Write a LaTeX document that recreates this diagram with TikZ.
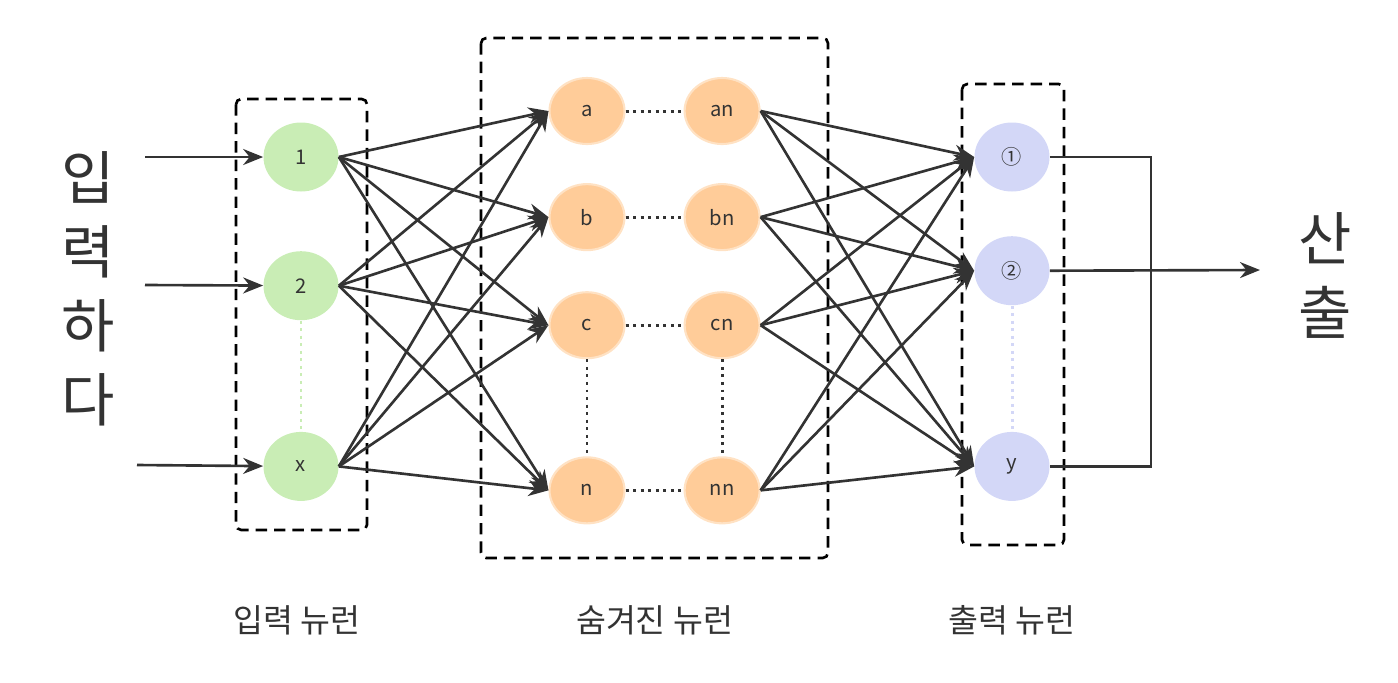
\documentclass[tikz,border=0pt]{standalone}
\usepackage{fontspec}
\setmainfont{Noto Sans CJK KR}
\usepackage{tikz}
\usetikzlibrary{arrows.meta, positioning, shapes.geometric}
\definecolor{LineGray}{RGB}{51,51,51}
\definecolor{NeuGreen}{RGB}{201,237,181}
\definecolor{NeuOrange}{RGB}{255,204,153}
\definecolor{EdgeOrange}{RGB}{255,226,196}
\definecolor{NeuLilac}{RGB}{211,215,247}
\tikzset{
  neuron/.style={ellipse, inner sep=0pt, minimum width=1.5cm,
    minimum height=1.38cm, font=\fontsize{11.5}{13}\selectfont, text=LineGray},
  inneuron/.style={neuron, fill=NeuGreen},
  hidneuron/.style={neuron, fill=NeuOrange, draw=EdgeOrange,
    line width=1.2pt, minimum height=1.32cm},
  outneuron/.style={neuron, fill=NeuLilac},
  groupbox/.style={draw=black, line width=1.5pt,
    dash pattern=on 6.5pt off 4pt, rounded corners=3pt},
  arrow/.style={-{Stealth[length=0.4cm, width=0.32cm]}, line width=1.5pt, color=LineGray},
  link/.style={line width=1.5pt, color=LineGray},
  dotlink/.style={line width=1.7pt, color=LineGray, dash pattern=on 1.7pt off 2.6pt},
  bigtext/.style={font=\fontsize{33}{42}\selectfont, text=LineGray, align=center},
  captext/.style={font=\fontsize{18.5}{22}\selectfont, text=LineGray}
}

\begin{document}
\begin{tikzpicture}
  \useasboundingbox (0,0) rectangle (27.96,-13.64);

  % Group frames
  \draw[groupbox] (4.72,-1.98) rectangle (7.34,-10.6);
  \draw[groupbox] (9.62,-0.76) rectangle (16.56,-11.16);
  \draw[groupbox] (19.24,-1.68) rectangle (21.28,-10.9);

  % Input neurons
  \node[inneuron] (i1) at (6.02,-3.14) {1};
  \node[inneuron, below=1.18cm of i1] (i2) {2};
  \node[inneuron, below=2.22cm of i2] (ix) {x};
  \draw[dotlink, NeuGreen] (i2) -- (ix);

  % Hidden neurons
  \node[hidneuron] (a) at (11.74,-2.22) {a};
  \node[hidneuron, right=1.16cm of a] (an) {an};
  \node[hidneuron, below=0.76cm of a] (b) {b};
  \node[hidneuron, right=1.16cm of b] (bn) {bn};
  \node[hidneuron, below=0.8cm of b] (c) {c};
  \node[hidneuron, right=1.16cm of c] (cn) {cn};
  \node[hidneuron, below=1.94cm of c] (n) {n};
  \node[hidneuron, right=1.16cm of n] (nn) {nn};

  \draw[dotlink] (a)--(an); \draw[dotlink] (b)--(bn);
  \draw[dotlink] (c)--(cn); \draw[dotlink] (n)--(nn);
  \draw[dotlink] (c)--(n);  \draw[dotlink] (cn)--(nn);

  % Output neurons
  \node[outneuron] (o1) at (20.24,-3.14) {①};
  \node[outneuron, below=0.88cm of o1] (o2) {②};
  \node[outneuron, below=2.52cm of o2] (oy) {y};
  \draw[dotlink, NeuLilac] (o2) -- (oy);

  % Signals in
  \coordinate (s1) at (2.9,-3.14);
  \coordinate (s2) at (2.9,-5.70);
  \coordinate (sx) at (2.74,-9.30);
  \draw[arrow] (s1)--(i1); \draw[arrow] (s2)--(i2);
  \draw[arrow] (sx)--(ix);

  % Input -> hidden
  \draw[arrow] (i1.east)--(a.west); \draw[arrow] (i1.east)--(b.west);
  \draw[arrow] (i1.east)--(c.west); \draw[arrow] (i1.east)--(n.west);
  \draw[arrow] (i2.east)--(a.west); \draw[arrow] (i2.east)--(b.west);
  \draw[arrow] (i2.east)--(c.west); \draw[arrow] (i2.east)--(n.west);
  \draw[arrow] (ix.east)--(a.west); \draw[arrow] (ix.east)--(b.west);
  \draw[arrow] (ix.east)--(c.west); \draw[arrow] (ix.east)--(n.west);

  % Hidden -> output
  \draw[arrow] (an.east)--(o1.west); \draw[arrow] (an.east)--(o2.west);
  \draw[arrow] (an.east)--(oy.west);
  \draw[arrow] (bn.east)--(o1.west); \draw[arrow] (bn.east)--(o2.west);
  \draw[arrow] (bn.east)--(oy.west);
  \draw[arrow] (cn.east)--(o1.west); \draw[arrow] (cn.east)--(o2.west);
  \draw[arrow] (cn.east)--(oy.west);
  \draw[arrow] (nn.east)--(o1.west); \draw[arrow] (nn.east)--(o2.west);
  \draw[arrow] (nn.east)--(oy.west);

  % Merge to result
  \coordinate (bus) at (23.02,-5.40);
  \coordinate (res) at (25.2,-5.40);
  \draw[link] (o1.east) -| (bus);
  \draw[link] (oy.east) -| (bus);
  \draw[arrow] (o2.east) -- (res);

  % Labels
  \node[bigtext] (inlabel) at (1.76,-5.78) {입\\력\\하\\다};
  \node[bigtext] (outlabel) at (26.5,-5.51) {산\\출};
  \node[captext] (incap)  at (5.94,-12.4)  {입력 뉴런};
  \node[captext] (hidcap) at (13.09,-12.4) {숨겨진 뉴런};
  \node[captext] (outcap) at (20.24,-12.4) {출력 뉴런};

\end{tikzpicture}
\end{document}
